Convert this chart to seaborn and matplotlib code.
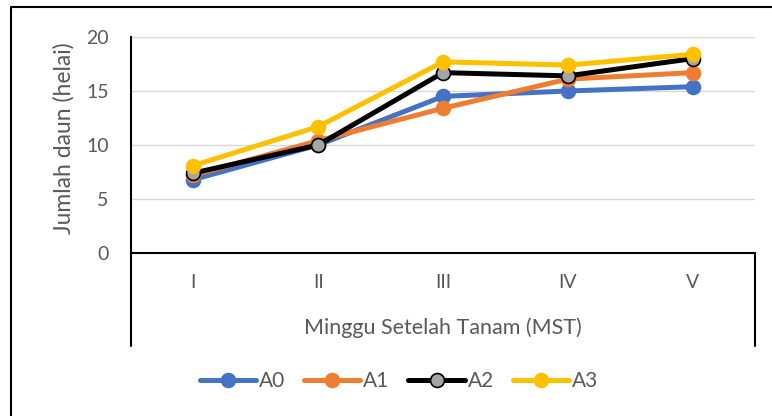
import pandas as pd
import matplotlib.pyplot as plt
import seaborn as sns
from matplotlib.lines import Line2D

weeks = ["I", "II", "III", "IV", "V"]
a0 = [6.8, 10.0, 14.5, 15.0, 15.4]
a1 = [7.2, 10.4, 13.4, 16.1, 16.7]
a2 = [7.4, 10.0, 16.7, 16.4, 18.0]
a3 = [8.1, 11.7, 17.7, 17.4, 18.4]
series = ["A0", "A1", "A2", "A3"]

colors = {"A0": "#4472C4", "A1": "#ED7D31", "A2": "#000000", "A3": "#FFC000"}
faces = {"A0": "#4472C4", "A1": "#ED7D31", "A2": "#A5A5A5", "A3": "#FFC000"}

rows = []
for name, vals in zip(series, [a0, a1, a2, a3]):
    for w, v in zip(weeks, vals):
        rows.append({"minggu": w, "daun": v, "perlakuan": name})
df = pd.DataFrame(rows)

sns.set_theme(style="white")
plt.rcParams["font.family"] = ["Lato", "DejaVu Sans"]
text_col = "#595959"

W, H = 772, 416
fig = plt.figure(figsize=(W / 100, H / 100), dpi=100)
ax = fig.add_axes([131 / W, 1 - 253 / H, (755 - 131) / W, (253 - 37) / H])

for name in series:
    sub = df[df["perlakuan"] == name]
    sns.lineplot(data=sub, x="minggu", y="daun", ax=ax, color=colors[name],
                 lw=3.6, marker="o", markersize=10,
                 markerfacecolor=faces[name],
                 markeredgecolor=colors[name], markeredgewidth=1.2,
                 legend=False)

ax.set_xlim(-0.5, 4.5)
ax.set_ylim(0, 20)
ax.set_yticks([0, 5, 10, 15, 20])
ax.grid(axis="y", color="#D9D9D9", lw=1)
ax.set_axisbelow(True)
for s in ["top", "right"]:
    ax.spines[s].set_visible(False)
ax.spines["left"].set_color("black")
ax.spines["left"].set_linewidth(1.5)
ax.spines["bottom"].set_color("black")
ax.spines["bottom"].set_linewidth(1.5)
ax.tick_params(axis="both", length=0, labelsize=14, colors=text_col)
ax.tick_params(axis="y", pad=16)
ax.tick_params(axis="x", pad=15)
ax.set_xlabel("")
ax.set_ylabel("")
fig.text(64 / W, 1 - 138 / H, "Jumlah daun (helai)", rotation=90,
         ha="center", va="center", fontsize=16.5, color=text_col)

# multi-level category box below the axis
y_bot = 1 - 346 / H
for xx in [131, 755]:
    fig.add_artist(Line2D([xx / W, xx / W], [1 - 253 / H, y_bot],
                          color="black", lw=1.5))
fig.text((131 + 755) / 2 / W, 1 - 328 / H, "Minggu Setelah Tanam (MST)",
         ha="center", va="center", fontsize=15.5, color=text_col)

# outer chart border (left and top only are visible)
fig.add_artist(Line2D([11 / W, 11 / W, 1.0], [0, 1 - 7 / H, 1 - 7 / H],
                      color="black", lw=1.5))

handles = [Line2D([], [], color=colors[n], lw=3.6, marker="o", markersize=10,
                  markerfacecolor=faces[n], markeredgecolor=colors[n],
                  markeredgewidth=1.2) for n in series]
leg = fig.legend(handles, series, loc="center", bbox_to_anchor=(399 / W, 1 - 381 / H),
                 ncol=4, frameon=False, fontsize=15, handlelength=2.7,
                 columnspacing=0.9, handletextpad=0.15)
for t in leg.get_texts():
    t.set_color(text_col)

fig.savefig("out.png", dpi=100)
